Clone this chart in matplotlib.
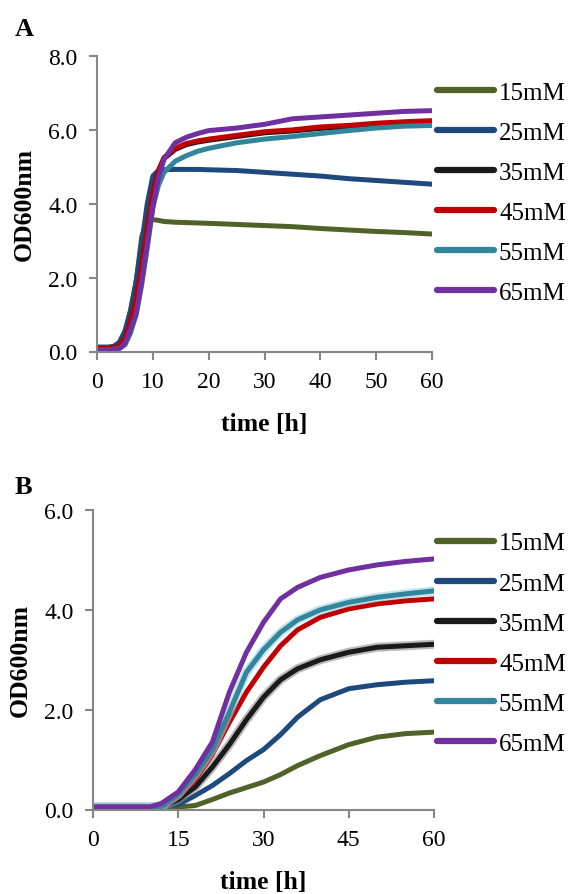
import matplotlib
matplotlib.use("Agg")
import matplotlib.pyplot as plt
from matplotlib.ticker import FormatStrFormatter, MultipleLocator

plt.rcParams['font.family'] = ['Liberation Serif', 'DejaVu Serif']

labels = ["15mM", "25mM", "35mM", "45mM", "55mM", "65mM"]
colors = ["#4F6228", "#1F497D", "#1A1A1A", "#C00000", "#31869B", "#7030A0"]

# ---------- Panel A data ----------
time_a = [0, 2, 3, 4, 5, 6, 7, 8, 9, 10, 11, 12, 14, 16, 18, 20, 25, 30, 35, 40, 45, 50, 55, 60]
a_15 = [0.10, 0.10, 0.13, 0.22, 0.50, 1.10, 1.85, 3.10, 3.55, 3.57, 3.55, 3.52, 3.50, 3.49, 3.48, 3.47,
        3.44, 3.41, 3.38, 3.33, 3.29, 3.25, 3.22, 3.18]
a_25 = [0.12, 0.12, 0.14, 0.25, 0.55, 1.10, 1.90, 2.90, 4.00, 4.75, 4.90, 4.92, 4.93, 4.93, 4.93, 4.92,
        4.90, 4.85, 4.80, 4.75, 4.68, 4.63, 4.58, 4.53]
a_35 = [0.08, 0.08, 0.10, 0.15, 0.35, 0.80, 1.40, 2.30, 3.30, 4.30, 4.88, 5.22, 5.47, 5.60, 5.67, 5.72,
        5.82, 5.92, 5.97, 6.04, 6.08, 6.13, 6.17, 6.20]
a_45 = [0.08, 0.08, 0.10, 0.15, 0.35, 0.80, 1.40, 2.30, 3.30, 4.30, 4.90, 5.25, 5.50, 5.63, 5.70, 5.75,
        5.85, 5.95, 6.00, 6.08, 6.12, 6.18, 6.22, 6.25]
a_55 = [0.05, 0.05, 0.06, 0.08, 0.18, 0.50, 1.00, 1.80, 2.80, 3.90, 4.50, 4.85, 5.15, 5.30, 5.42, 5.50,
        5.65, 5.75, 5.82, 5.90, 5.98, 6.05, 6.10, 6.12]
a_65 = [0.05, 0.05, 0.06, 0.08, 0.20, 0.60, 1.00, 1.90, 2.90, 3.90, 4.70, 5.20, 5.65, 5.80, 5.90, 5.98,
        6.05, 6.15, 6.30, 6.35, 6.40, 6.45, 6.50, 6.52]
series_a = [a_15, a_25, a_35, a_45, a_55, a_65]

# ---------- Panel B data ----------
time_b = [0, 10, 12, 15, 18, 21, 24, 27, 30, 33, 36, 40, 45, 50, 55, 60]
b_15 = [0.05, 0.05, 0.05, 0.05, 0.08, 0.20, 0.33, 0.44, 0.55, 0.70, 0.88, 1.08, 1.30, 1.45, 1.52, 1.55]
b_25 = [0.05, 0.05, 0.05, 0.10, 0.28, 0.48, 0.72, 0.98, 1.20, 1.50, 1.85, 2.20, 2.42, 2.50, 2.55, 2.58]
b_35 = [0.05, 0.05, 0.05, 0.20, 0.45, 0.85, 1.30, 1.80, 2.25, 2.60, 2.82, 3.00, 3.15, 3.25, 3.28, 3.31]
b_45 = [0.05, 0.05, 0.05, 0.25, 0.60, 1.10, 1.75, 2.35, 2.85, 3.28, 3.60, 3.85, 4.02, 4.12, 4.18, 4.22]
b_55 = [0.05, 0.05, 0.06, 0.30, 0.70, 1.20, 1.95, 2.75, 3.20, 3.55, 3.80, 4.00, 4.15, 4.25, 4.32, 4.38]
b_65 = [0.05, 0.05, 0.12, 0.35, 0.80, 1.35, 2.35, 3.15, 3.75, 4.22, 4.45, 4.65, 4.80, 4.90, 4.97, 5.02]
series_b = [b_15, b_25, b_35, b_45, b_55, b_65]
spread_colors_b = [None, None, "#8C8C8C", None, "#9DD3E2", None]

W, H = 572, 895
fig = plt.figure(figsize=(W / 100, H / 100), dpi=100)

FS = 17
LFS = 18.5
spine_col = "#868686"


def style_axes(ax, ymax, ystep, xstep):
    for s in ["top", "right"]:
        ax.spines[s].set_visible(False)
    for s in ["left", "bottom"]:
        ax.spines[s].set_color(spine_col)
        ax.spines[s].set_linewidth(1.5)
    ax.set_xlim(0, 60)
    ax.set_ylim(0, ymax)
    ax.xaxis.set_major_locator(MultipleLocator(xstep))
    ax.yaxis.set_major_locator(MultipleLocator(ystep))
    ax.yaxis.set_major_formatter(FormatStrFormatter("%.1f"))
    ax.tick_params(axis="both", direction="out", length=6, width=1.5, color=spine_col,
                   labelsize=FS, pad=8)
    ax.set_xlabel("time [h]", fontsize=LFS, fontweight="bold", labelpad=14.5)
    ax.set_ylabel("OD600nm", fontsize=LFS, fontweight="bold", labelpad=9)


def add_legend(ax, top_px):
    leg = ax.legend(loc="upper left", bbox_to_anchor=(437 / W, 1 - top_px / H),
                    bbox_transform=fig.transFigure, frameon=False, fontsize=18,
                    handlelength=2.28, handletextpad=0.2, labelspacing=0.705,
                    borderpad=0, borderaxespad=0)
    for ln in leg.get_lines():
        ln.set_linewidth(4.5)
        ln.set_solid_capstyle("round")
        ln.set_alpha(1)
    return leg


# Panel A
axA = fig.add_axes([97 / W, 1 - 352.5 / H, (432 - 97) / W, (352.5 - 57) / H])
axA.patch.set_alpha(0)
for vals, c, lab in zip(series_a, colors, labels):
    axA.plot(time_a, vals, color=c, lw=3.6, label=lab, solid_joinstyle="round")
style_axes(axA, 8, 2, 10)
add_legend(axA, 82)
fig.text(15 / W, 1 - 29 / H, "A", fontsize=19, fontweight="bold", va="center", ha="left")

# Panel B
axB = fig.add_axes([93 / W, 1 - 810.5 / H, (434 - 93) / W, (810.5 - 511) / H])
axB.patch.set_alpha(0)
for vals, c, sc, lab in zip(series_b, colors, spread_colors_b, labels):
    if sc is not None:
        axB.plot(time_b, vals, color=sc, lw=6.5, alpha=0.6, solid_joinstyle="round")
    axB.plot(time_b, vals, color=c, lw=3.6, label=lab, solid_joinstyle="round")
style_axes(axB, 6, 2, 15)
add_legend(axB, 533)
fig.text(15 / W, 1 - 488 / H, "B", fontsize=19, fontweight="bold", va="center", ha="left")

fig.savefig("out.png", dpi=100)
